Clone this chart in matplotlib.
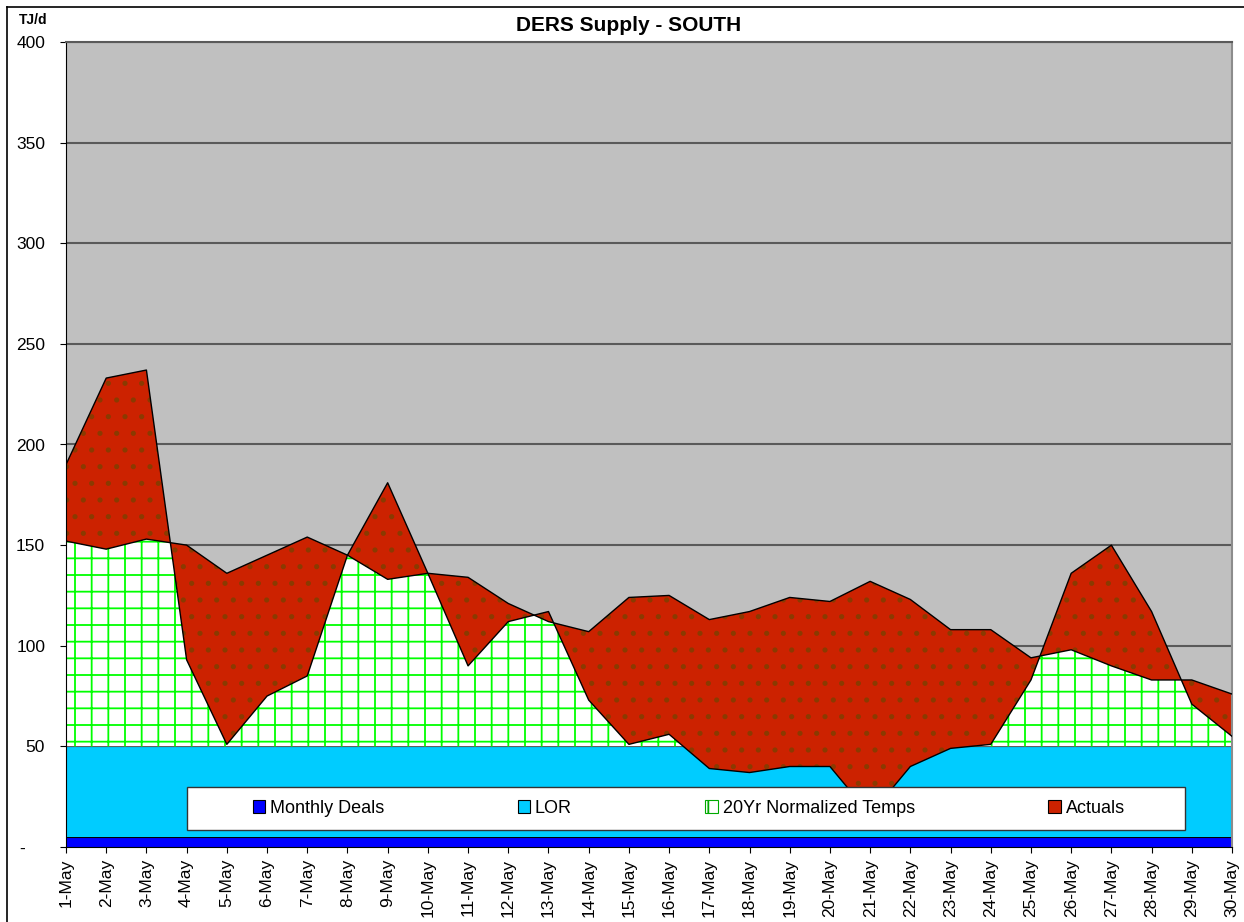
import matplotlib.pyplot as plt
from matplotlib.patches import Patch, Rectangle
from matplotlib.lines import Line2D

plt.rcParams["font.family"] = ["Liberation Sans", "DejaVu Sans"]
plt.rcParams["hatch.linewidth"] = 1.3

# Data (TJ/d)
days = [f"{d}-May" for d in range(1, 31)]
monthly_deals = [5, 5, 5, 5, 5, 5, 5, 5, 5, 5, 5, 5, 5, 5, 5,
                 5, 5, 5, 5, 5, 5, 5, 5, 5, 5, 5, 5, 5, 5, 5]
lor = [45, 45, 45, 45, 45, 45, 45, 45, 45, 45, 45, 45, 45, 45, 45,
       45, 45, 45, 45, 45, 45, 45, 45, 45, 45, 45, 45, 45, 45, 45]
# top of the 20Yr normalized band (stacked total)
normalized_total = [152, 148, 153, 150, 136, 145, 154, 145, 133, 136, 134, 121, 112, 107, 124,
                    125, 113, 117, 124, 122, 132, 123, 108, 108, 94, 98, 90, 83, 83, 76]
# actual supply (total)
actuals_total = [190, 233, 237, 93, 51, 75, 85, 145, 181, 136, 90, 112, 117, 73, 51,
                 56, 39, 37, 40, 40, 16, 40, 49, 51, 83, 136, 150, 117, 71, 55]

x = list(range(len(days)))
deals_top = monthly_deals
lor_top = [d + l for d, l in zip(monthly_deals, lor)]

fig = plt.figure(figsize=(12.44, 9.22), dpi=100)
ax = fig.add_axes([66 / 1244, 1 - 847 / 922, 1166 / 1244, 805 / 922])
ax.set_facecolor("#C0C0C0")

# stacked areas, drawn in series order like the original
ax.fill_between(x, 0, deals_top, color="#0000FF", lw=0, zorder=2)
ax.plot(x, deals_top, color="black", lw=0.8, zorder=2.05)
ax.fill_between(x, deals_top, lor_top, color="#00CCFF", lw=0, zorder=2.1)
ax.plot(x, lor_top, color="black", lw=0.8, zorder=2.15)
ax.fill_between(x, lor_top, normalized_total, facecolor="white", edgecolor="#00FF00",
                hatch="+", lw=0, zorder=2.2)
ax.fill_between(x, normalized_total, actuals_total, facecolor="#CC2200", edgecolor="#8A3A00",
                hatch=".", lw=0, zorder=2.3)
ax.plot(x, normalized_total, color="black", lw=1, zorder=3)
ax.plot(x, actuals_total, color="black", lw=1, zorder=3)

ax.set_xlim(0, len(days) - 1)
ax.set_ylim(0, 400)
ax.set_yticks(range(0, 401, 50))
ax.set_yticklabels(["-    "] + [str(v) for v in range(50, 401, 50)], fontsize=12.5)
ax.set_xticks(x)
ax.set_xticklabels(days, rotation=90, fontsize=12.5)
ax.tick_params(axis="y", length=4.5, pad=10.5)
ax.tick_params(axis="x", length=4.5, pad=4)

ax.set_axisbelow(True)
ax.yaxis.grid(True, color="#5A5A5A", lw=1.5)
ax.spines["left"].set_color("black")
ax.spines["bottom"].set_color("black")
ax.spines["top"].set_color("#5A5A5A")
ax.spines["top"].set_linewidth(1.5)
ax.spines["right"].set_color("#8C8C8C")
ax.spines["right"].set_linewidth(1.5)

# legend box inside the plot area
ax.add_patch(Rectangle((0.104, 0.021), 0.856, 0.054, transform=ax.transAxes,
                       facecolor="white", edgecolor="#333333", lw=1, zorder=5))
handles = [
    Patch(facecolor="#0000FF", edgecolor="black", lw=0.8),
    Patch(facecolor="#00CCFF", edgecolor="black", lw=0.8),
    Patch(facecolor="white", edgecolor="#00AA00", hatch="|", lw=0.8),
    Patch(facecolor="#CC2200", edgecolor="black", lw=0.8),
]
leg = ax.legend(handles, ["Monthly Deals", "LOR", "20Yr Normalized Temps", "Actuals"],
                loc="center", bbox_to_anchor=(0.534, 0.048), ncol=4, frameon=False,
                fontsize=13, handlelength=0.7, handleheight=0.7, handletextpad=0.25,
                columnspacing=7.4)
leg.set_zorder(6)

fig.text(0.505, 0.972, "DERS Supply - SOUTH", ha="center", va="center",
         fontsize=15, fontweight="bold")
fig.text(0.0265, 0.978, "TJ/d", ha="center", va="center", fontsize=10, fontweight="bold")

# outer chart border (only top and left show in the crop)
fig.add_artist(Line2D([7 / 1244, 7 / 1244], [0, 1 - 7 / 922], color="black", lw=1.2))
fig.add_artist(Line2D([7 / 1244, 1], [1 - 7 / 922, 1 - 7 / 922], color="black", lw=1.2))

fig.savefig("out.png", dpi=100)
